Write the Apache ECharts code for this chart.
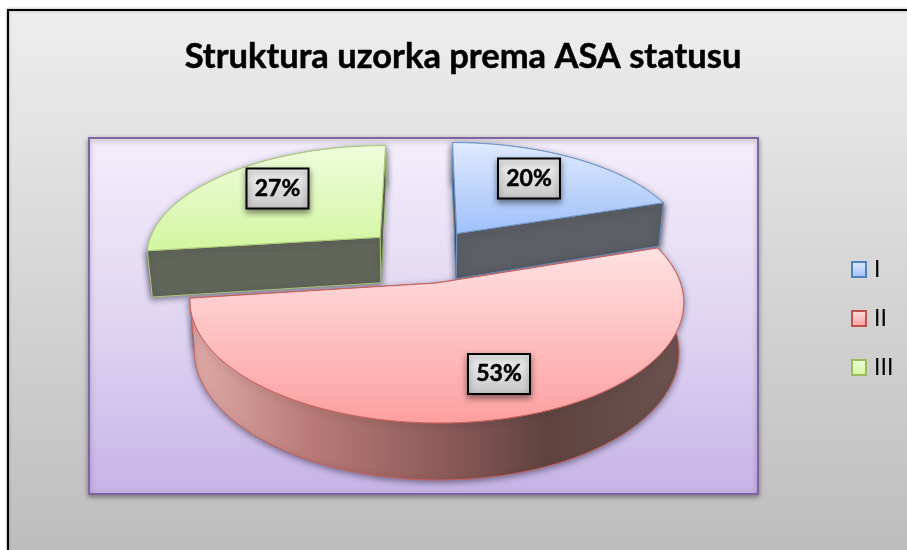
<!DOCTYPE html>
<html>
<head>
<meta charset="utf-8">
<style>html,body{margin:0;padding:0;background:#fff}#c{width:907px;height:550px}</style>
<script src="https://cdn.jsdelivr.net/npm/echarts@6/dist/echarts.min.js"></script>
</head>
<body>
<div id="c"></div>
<script>
const titleText = 'Struktura uzorka prema ASA statusu';
const categories = ['I', 'II', 'III'];
const values = [20, 53, 27];

const FONT = 'Lato, "Open Sans", sans-serif';
const total = values.reduce((a, b) => a + b, 0);

// Perspective camera for the tilted pie
const VP_X = 423, VP_Y = -492, PERSP = 0.153, SCALE_X = 244, X0 = 13.5, SHIFT_X = 0.0545, SHIFT_Y = 0.244;
const DEPTH = 48.3, BOTTOM_K = 0.982, EXPLODE = 0.25;

function project(X, Y, lower) {
  const s = 1 / (1 + PERSP * (Y + SHIFT_Y));
  let x = VP_X + (X0 + SCALE_X * (X - SHIFT_X)) * s;
  let y = VP_Y + 775 * s;
  if (lower) {
    x = VP_X + (x - VP_X) * BOTTOM_K;
    y += DEPTH * s;
  }
  return [x, y];
}

const looks = [
  { top: ['#dfeafd', '#9fc0fa'], line: '#6f96c8', wall: '#5b5e64', legend: '#4f81bd', labelAt: [529, 178.5] },
  { top: ['#ffe2e2', '#fd9f9f'], line: '#c9605c', wall: '#6b4744', legend: '#c0504d', labelAt: [499, 374] },
  { top: ['#effcdc', '#d2f6a0'], line: '#abc878', wall: '#62655a', legend: '#9bbb59', labelAt: [277.5, 188.5] }
];
const redWall = {
  type: 'linear', x: 0, y: 0, x2: 1, y2: 0,
  colorStops: [
    { offset: 0, color: '#e0aaa7' },
    { offset: 0.25, color: '#b87a77' },
    { offset: 0.5, color: '#8f5c5a' },
    { offset: 0.72, color: '#60433f' },
    { offset: 1, color: '#6b5351' }
  ]
};

function vGrad(c) {
  return { type: 'linear', x: 0, y: 0, x2: 0, y2: 1, colorStops: [{ offset: 0, color: c[0] }, { offset: 1, color: c[1] }] };
}

function sliceRange(i) {
  let before = 0;
  for (let k = 0; k < i; k++) before += values[k];
  return [before / total * 2 * Math.PI, (before + values[i]) / total * 2 * Math.PI];
}

function renderSlice(i) {
  return function () {
    const look = looks[i];
    const [t0, t1] = sliceRange(i);
    const tm = (t0 + t1) / 2;
    const ax = EXPLODE * Math.sin(tm), ay = EXPLODE * Math.cos(tm);
    const n = 90;
    const upper = [], lower = [];
    for (let k = 0; k <= n; k++) {
      const t = t0 + (t1 - t0) * k / n;
      const X = ax + Math.sin(t), Y = ay + Math.cos(t);
      upper.push(project(X, Y, false));
      lower.push(project(X, Y, true));
    }
    const apexU = project(ax, ay, false), apexL = project(ax, ay, true);
    const wallStyle = {
      fill: look.wall, stroke: look.line, lineWidth: 1,
      shadowBlur: 6, shadowColor: 'rgba(40,40,60,0.55)', shadowOffsetY: 2
    };
    const cutA = { type: 'polygon', shape: { points: [apexU, upper[0], lower[0], apexL] }, style: Object.assign({}, wallStyle) };
    const cutB = { type: 'polygon', shape: { points: [apexU, upper[n], lower[n], apexL] }, style: Object.assign({}, wallStyle) };
    const outer = {
      type: 'polygon',
      shape: { points: upper.concat(lower.slice().reverse()) },
      style: Object.assign({}, wallStyle, i === 1 ? { fill: redWall } : {})
    };
    // painter's order: whichever wall faces the viewer goes last
    const walls = i === 0 ? [outer, cutA, cutB] : i === 1 ? [cutA, cutB, outer] : [outer, cutB, cutA];
    const children = walls.slice();
    // top face
    children.push({
      type: 'polygon',
      shape: { points: [apexU].concat(upper) },
      style: { fill: vGrad(look.top), stroke: look.line, lineWidth: 1 }
    });
    // data label
    const [lx, ly] = look.labelAt;
    children.push({
      type: 'rect',
      shape: { x: lx - 31, y: ly - 20, width: 62, height: 40 },
      style: {
        fill: vGrad(['#f3f3f3', '#c6c6c6']), stroke: '#000', lineWidth: 2,
        shadowBlur: 6, shadowColor: 'rgba(0,0,0,0.45)', shadowOffsetY: 3
      },
      z2: 10
    });
    children.push({
      type: 'text',
      style: {
        x: lx, y: ly, text: Math.round(values[i] / total * 100) + '%',
        fill: '#000', stroke: '#000', lineWidth: 0.5,
        font: 'bold 23px ' + FONT, align: 'center', verticalAlign: 'middle'
      },
      z2: 11
    });
    return { type: 'group', children };
  };
}

const chart = echarts.init(document.getElementById('c'), null, { renderer: 'canvas' });
chart.setOption({
  animation: false,
  backgroundColor: '#fff',
  title: {
    text: titleText, left: 463, top: 39, textAlign: 'center', padding: 0,
    textStyle: { fontFamily: FONT, fontWeight: 'bold', fontSize: 34.5, color: '#000', textBorderColor: '#000', textBorderWidth: 0.5 }
  },
  legend: {
    orient: 'vertical', left: 851, top: 258, itemWidth: 14, itemHeight: 15, itemGap: 26, padding: 0,
    icon: 'rect',
    textStyle: { fontFamily: FONT, fontSize: 23, lineHeight: 22, color: '#000', padding: [0, 0, 0, 3] },
    data: categories.map((name, i) => ({
      name,
      itemStyle: { color: vGrad(looks[i].top), borderColor: looks[i].legend, borderWidth: 2 }
    }))
  },
  graphic: [
    {
      type: 'rect', z: -10, silent: true,
      shape: { x: 8, y: 10, width: 910, height: 550 },
      style: {
        fill: { type: 'linear', x: 0, y: 0, x2: 0, y2: 1, colorStops: [{ offset: 0, color: '#eeeeee' }, { offset: 1, color: '#bcbcbc' }] },
        stroke: '#000', lineWidth: 2, shadowBlur: 3, shadowColor: 'rgba(0,0,0,0.3)'
      }
    },
    {
      type: 'rect', z: -9, silent: true,
      shape: { x: 89, y: 138, width: 669, height: 356 },
      style: {
        fill: { type: 'linear', x: 0, y: 0, x2: 0, y2: 1, colorStops: [{ offset: 0, color: '#f4eefb' }, { offset: 0.5, color: '#e0d6f2' }, { offset: 1, color: '#c6b3e6' }] },
        stroke: '#8064a2', lineWidth: 2,
        shadowBlur: 5, shadowColor: 'rgba(0,0,0,0.35)', shadowOffsetY: 2
      }
    }
  ],
  series: categories.map((name, i) => ({
    type: 'custom',
    name,
    coordinateSystem: 'none',
    z: i === 1 ? 4 : 3,
    silent: true,
    itemStyle: { color: looks[i].legend },
    data: [[values[i]]],
    renderItem: renderSlice(i)
  }))
});
</script>
</body>
</html>
